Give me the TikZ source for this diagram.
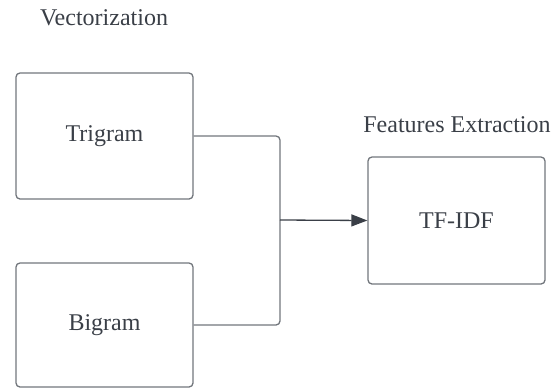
\documentclass[tikz,border=0pt]{standalone}
\usepackage{fontspec}
\setmainfont{Liberation Serif}
\usetikzlibrary{calc,positioning,arrows.meta}

\definecolor{bordo}{HTML}{72767C}
\definecolor{testo}{HTML}{3A3F47}

\begin{document}
\begin{tikzpicture}[x=1pt,y=-1pt,
  blocco/.style={draw=bordo, line width=1.3pt, rounded corners=4pt,
    minimum width=177pt, minimum height=126pt, inner sep=0pt,
    text=testo, font=\fontsize{24}{28}\selectfont},
  titolo/.style={inner sep=0pt, text=testo, font=\fontsize{24}{28}\selectfont},
  connettore/.style={draw=bordo, line width=1.3pt, rounded corners=4pt}]

  % cornice
  \useasboundingbox (0,0) rectangle (560,389);

  % blocchi
  \node[blocco] (Trigram) at (104.5,136) {Trigram};
  \node[blocco, minimum height=124pt] (Bigram) at (104.5,325) {Bigram};
  \node[blocco, minimum height=127pt] (TFIDF) at (456.5,220.5) {TF-IDF};

  % titoli
  \node[titolo] (Vettorizzazione) at (104,18) {Vectorization};
  \node[titolo] (Estrazione) at (457,125) {Features Extraction};

  % collegamenti
  \coordinate (Giunzione) at (280,220);
  \draw[connettore] (Trigram.east) -| (Giunzione);
  \draw[connettore] (Bigram.east) -| (Giunzione);
  \draw[connettore, draw=testo, -{Triangle[length=16pt,width=12pt]}] (Giunzione) -- (TFIDF.west);
\end{tikzpicture}
\end{document}
